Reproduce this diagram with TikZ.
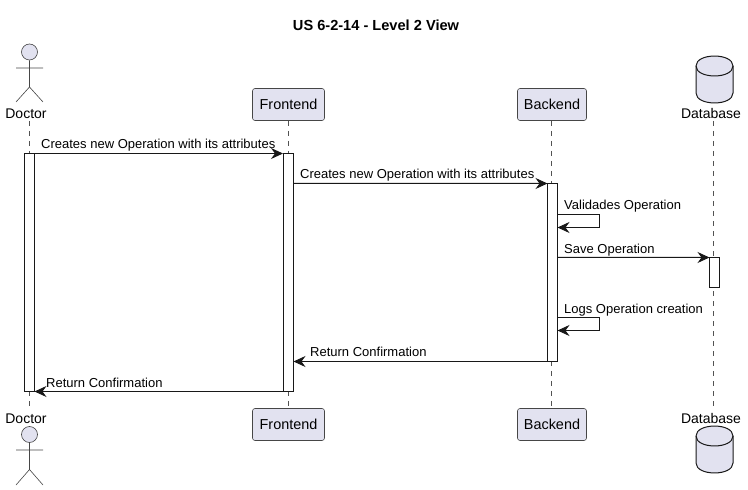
\documentclass[tikz,border=0pt]{standalone}
\usepackage{fontspec}
\setmainfont{Liberation Sans}
\usetikzlibrary{arrows.meta,shapes.geometric}
\definecolor{pfill}{HTML}{E2E2F0}
\definecolor{pline}{HTML}{181818}
\tikzset{
  life/.style={draw=pline!75,line width=0.5bp,dash pattern=on 5bp off 5bp},
  pbox/.style={draw=pline!80,line width=0.6bp,fill=pfill,rounded corners=2.5bp,inner sep=0pt,minimum height=32bp,font=\fontsize{14.4bp}{16bp}\selectfont},
  plabel/.style={inner sep=0pt,font=\fontsize{14bp}{16bp}\selectfont,text=black},
  bar/.style={draw=pline,line width=1bp,fill=white,inner sep=0pt,outer sep=0pt,minimum width=10bp},
  msg/.style={draw=pline,line width=1bp,-{Stealth[length=12bp,width=11bp,inset=4bp]}},
  mtext/.style={inner sep=0pt,anchor=base west,font=\fontsize{13bp}{15bp}\selectfont,text=black},
  actor/.style={draw=pline!80,line width=0.6bp},
  head/.style={draw=pline!80,line width=0.6bp,fill=pfill,circle,inner sep=0pt,minimum size=16bp},
  cyl/.style={draw=pline,line width=1bp,fill=pfill},
  cylbox/.style={inner sep=0pt,outer sep=0pt,minimum width=37bp,minimum height=47bp},
}
\begin{document}
\begin{tikzpicture}[x=1bp,y=-1bp]
\useasboundingbox (0,0) rectangle (748,490);
\node[inner sep=0pt,font=\bfseries\fontsize{14.6bp}{16bp}\selectfont] (title) at (376,25) {US 6-2-14 - Level 2 View};
% participants
\node[plabel] (docT) at (26,113.5) {Doctor};
\node[plabel] (docB) at (26,418.5) {Doctor};
\node[pbox,minimum width=72bp] (feT) at (288.5,104.5) {Frontend};
\node[pbox,minimum width=72bp] (feB) at (288.5,424.5) {Frontend};
\node[pbox,minimum width=69bp] (beT) at (552,104.5) {Backend};
\node[pbox,minimum width=69bp] (beB) at (552,424.5) {Backend};
\node[plabel] (dbT) at (711,113.5) {Database};
\node[plabel] (dbB) at (711,418.5) {Database};
% lifelines
\coordinate (dlt) at (29.5,121); \coordinate (dlb) at (29.5,408);
\coordinate (blt) at (713.5,121); \coordinate (blb) at (713.5,408);
\draw[life] (dlt) -- (dlb);
\draw[life] (feT.south) -- (feB.north);
\draw[life] ([xshift=-0.5bp]beT.south) -- ([xshift=-0.5bp]beB.north);
\draw[life] (blt) -- (blb);
% activations
\node[bar,minimum height=238bp] (aD) at (29.5,272.5) {};
\node[bar,minimum height=238bp] (aF) at (288.5,272.5) {};
\node[bar,minimum height=178bp] (aB) at (552.5,272.5) {};
\node[bar,minimum height=30bp] (aDb) at (714.5,272.5) {};
% actor top
\node[head] (h1) at (29.5,52) {};
\coordinate (n1) at (29.5,87); \coordinate (a1l) at (16,68); \coordinate (a1r) at (43,68);
\coordinate (l1l) at (16,102); \coordinate (l1r) at (43,102);
\draw[actor] (h1) -- (n1) (a1l) -- (a1r) (l1l) -- (n1) -- (l1r);
% actor bottom
\node[head] (h2) at (29.5,434.5) {};
\coordinate (n2) at (29.5,469.5); \coordinate (a2l) at (16,450); \coordinate (a2r) at (43,450);
\coordinate (l2l) at (16,485); \coordinate (l2r) at (43,485);
\draw[actor] (h2) -- (n2) (a2l) -- (a2r) (l2l) -- (n2) -- (l2r);
% cylinders
\node[cylbox] (cylT) at (714.5,79.5) {};
\node[cylbox] (cylB) at (714.5,449.5) {};
\foreach \c in {cylT,cylB}{
  \draw[cyl] ([yshift=-10bp]\c.north west)
    .. controls ([yshift=3.3bp]\c.north west) and ([yshift=3.3bp]\c.north east) .. ([yshift=-10bp]\c.north east)
    -- ([yshift=10bp]\c.south east)
    .. controls ([yshift=-3.3bp]\c.south east) and ([yshift=-3.3bp]\c.south west) .. ([yshift=10bp]\c.south west)
    -- cycle;
  \draw[cyl,fill=none] ([yshift=-10bp]\c.north west)
    .. controls ([yshift=-23.3bp]\c.north west) and ([yshift=-23.3bp]\c.north east) .. ([yshift=-10bp]\c.north east);
}
% messages
\coordinate (y2) at (0,183.5); \coordinate (y3a) at (599.5,214.5); \coordinate (y3b) at (599.5,227.5);
\coordinate (y4) at (0,257.5); \coordinate (y5a) at (599.5,317.5); \coordinate (y5b) at (599.5,330.5);
\draw[msg] (aD.north east) -- ([xshift=-0.5bp]aF.north west);
\draw[msg] (aF.east |- y2) -- (aB.north west);
\draw[msg] (aB.east |- y3a) -- (y3a) -- (y3b) -- (aB.east |- y3b);
\draw[msg] (aB.east |- y4) -- (aDb.north west);
\draw[msg] (aB.east |- y5a) -- (y5a) -- (y5b) -- (aB.east |- y5b);
\draw[msg] (aB.south west) -- (aF.east |- aB.south);
\draw[msg] (aF.south west) -- (aD.south east);
\node[mtext] (t1) at (41,149) {Creates new Operation with its attributes};
\node[mtext] (t2) at (300,179) {Creates new Operation with its attributes};
\node[mtext] (t3) at (564,210) {Validades Operation};
\node[mtext] (t4) at (564,254) {Save Operation};
\node[mtext] (t5) at (564,313) {Logs Operation creation};
\node[mtext] (t6) at (310,356) {Return Confirmation};
\node[mtext] (t7) at (46,387) {Return Confirmation};
\end{tikzpicture}
\end{document}
